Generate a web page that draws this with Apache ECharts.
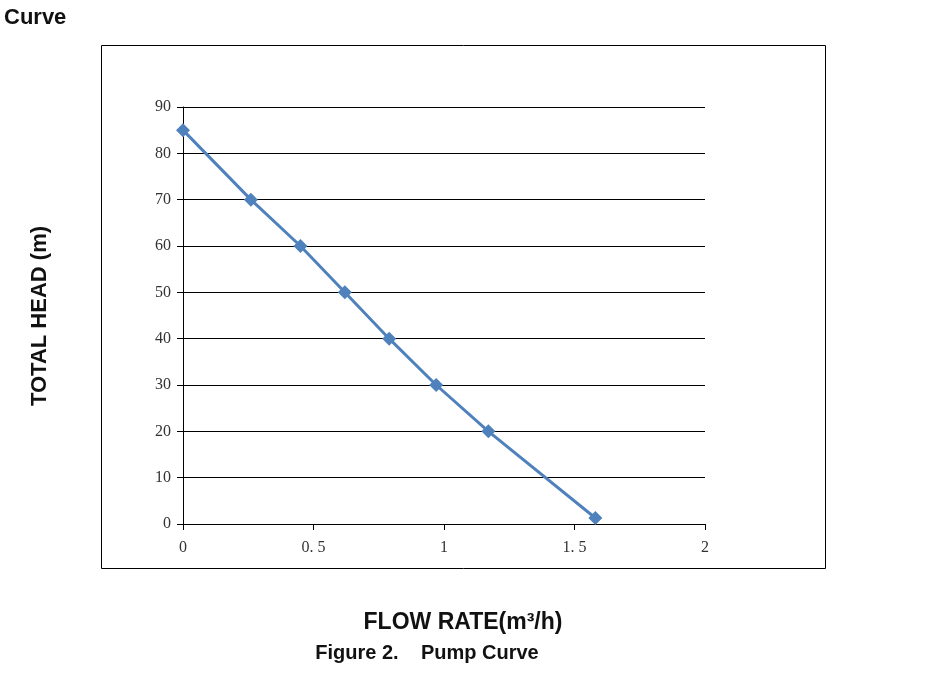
<!DOCTYPE html>
<html><head><meta charset="utf-8">
<script src="https://cdn.jsdelivr.net/npm/echarts@6/dist/echarts.min.js"></script>
<style>html,body{margin:0;padding:0;background:#fff}#c{width:935px;height:673px}</style>
</head><body><div id="c"></div>
<script>
const flowRate = [0, 0.26, 0.45, 0.62, 0.79, 0.97, 1.17, 1.58];
const totalHead = [85, 70, 60, 50, 40, 30, 20, 1.3];
const xTickLabels = {0: '0', 0.5: '0. 5', 1: '1', 1.5: '1. 5', 2: '2'};

const chart = echarts.init(document.getElementById('c'));
const boldFont = 'Liberation Sans, Arial, sans-serif';
const tickFont = 'Liberation Serif, DejaVu Serif, serif';
chart.setOption({
  animation: false,
  backgroundColor: '#fff',
  graphic: [
    {type: 'rect', shape: {x: 101.5, y: 45.5, width: 724, height: 523}, style: {fill: 'none', stroke: '#000', lineWidth: 1}, z: 0},
    {type: 'text', x: 4, y: 18, style: {text: 'Curve', font: 'bold 22px ' + boldFont, fill: '#111', verticalAlign: 'middle'}},
    {type: 'text', x: 40, y: 316, rotation: Math.PI / 2, style: {text: 'TOTAL HEAD (m)', font: 'bold 22px ' + boldFont, fill: '#111', align: 'center', verticalAlign: 'middle'}},
    {type: 'text', x: 463, y: 623, style: {text: 'FLOW RATE(m³/h)', font: 'bold 23px ' + boldFont, fill: '#111', align: 'center', verticalAlign: 'middle'}},
    {type: 'text', x: 427, y: 653, style: {text: 'Figure 2.    Pump Curve', font: 'bold 20px ' + boldFont, fill: '#111', align: 'center', verticalAlign: 'middle'}}
  ],
  grid: {left: 183, top: 107, width: 522, height: 417, containLabel: false},
  xAxis: {
    type: 'value', min: 0, max: 2, interval: 0.5,
    axisLine: {show: true, onZero: false, lineStyle: {color: '#000', width: 1}},
    axisTick: {show: true, inside: false, length: 6, lineStyle: {color: '#000'}},
    splitLine: {show: false},
    axisLabel: {margin: 16, color: '#333', fontFamily: tickFont, fontSize: 16,
      formatter: v => xTickLabels[v] !== undefined ? xTickLabels[v] : String(v)}
  },
  yAxis: {
    type: 'value', min: 0, max: 90, interval: 10,
    axisLine: {show: true, lineStyle: {color: '#000', width: 1}},
    axisTick: {show: true, inside: false, length: 6, lineStyle: {color: '#000'}},
    splitLine: {show: true, lineStyle: {color: '#000', width: 1}},
    axisLabel: {margin: 12, color: '#333', fontFamily: tickFont, fontSize: 16}
  },
  series: [{
    type: 'line',
    data: flowRate.map((x, i) => [x, totalHead[i]]),
    symbol: 'diamond', symbolSize: 14,
    lineStyle: {color: '#4f81bd', width: 3},
    itemStyle: {color: '#4f81bd'},
    z: 5
  }]
});
</script></body></html>
